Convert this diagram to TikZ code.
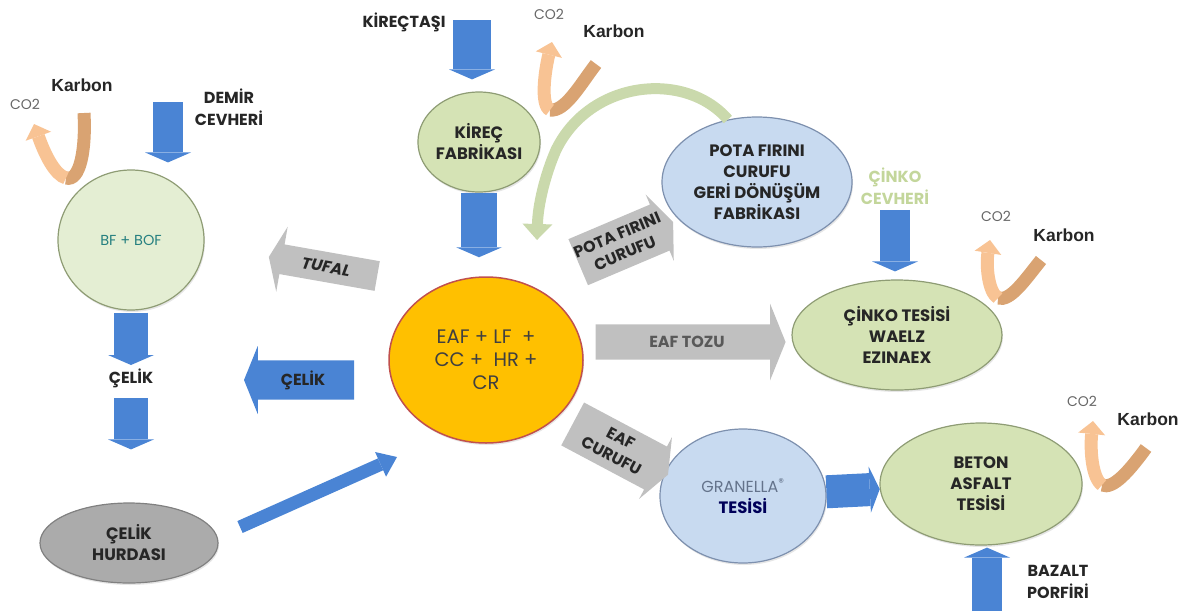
\documentclass[tikz,border=0pt]{standalone}
\usepackage{fontspec}
\setmainfont{Poppins}
\newfontfamily\karbonfont{Liberation Sans}
\usepackage{tikz}
\usetikzlibrary{shapes,arrows,arrows.meta,positioning,shadows}

\definecolor{bfgreen}{HTML}{E4EED3}
\definecolor{plantgreen}{HTML}{D5E3B5}
\definecolor{plantedge}{HTML}{8E9C74}
\definecolor{plantblue}{HTML}{C8DAF0}
\definecolor{blueedge}{HTML}{7D90AE}
\definecolor{scrapgray}{HTML}{ABABAB}
\definecolor{eafgold}{HTML}{FFC000}
\definecolor{eafedge}{HTML}{C0504D}
\definecolor{flowblue}{HTML}{4A84D4}
\definecolor{flowgray}{HTML}{C0C0C0}
\definecolor{carbonlight}{HTML}{F8C394}
\definecolor{carbondark}{HTML}{D9A372}
\definecolor{recyclegreen}{HTML}{CAD9AC}
\definecolor{zincore}{HTML}{C3D69B}
\definecolor{labeltext}{HTML}{262626}

\begin{document}
\begin{tikzpicture}[x=1pt,y=-1pt,
	plant/.style={ellipse, draw=plantedge, line width=1.2pt, fill=plantgreen, inner sep=0pt, align=center,
		font=\bfseries\fontsize{16.5}{21}\selectfont, text=labeltext, drop shadow={shadow xshift=1pt, shadow yshift=-2pt, opacity=0.2}},
	tag/.style={align=center, font=\bfseries\fontsize{16}{22}\selectfont, text=labeltext},
	carbon/.style={font=\karbonfont\bfseries\fontsize{17.5}{19}\selectfont, text=labeltext},
	gas/.style={font=\fontsize{14}{16}\selectfont, text=black!60},
	feed/.style={draw=flowblue, line width=30pt, -{Triangle[width=46pt,length=10pt,line width=0pt]}},
	slab/.style={single arrow, fill=flowgray, single arrow head extend=7pt, single arrow tip angle=136, inner sep=0pt,
		align=center, font=\bfseries\fontsize{16}{20}\selectfont, text=labeltext},
	co2tail/.style={draw=carbondark, line width=13pt},
	co2head/.style={draw=carbonlight, line width=13pt, -{Triangle[width=27pt,length=13pt,line width=0pt]}},
	recycle/.style={draw=recyclegreen, line width=11pt, -{Triangle[width=30pt,length=16pt,line width=0pt]}}]
	\useasboundingbox (0,0) rectangle (1186,611);

	\node[plant, fill=bfgreen, minimum width=146pt, minimum height=140pt, font=\fontsize{14.5}{16}\selectfont, text=teal!70!gray] (bfbof) at (131,240) {BF + BOF};
	\node[plant, fill=scrapgray, draw=black!50, minimum width=178pt, minimum height=80pt] (hurda) at (129,543) {ÇELİK\\HURDASI};
	\node[plant, fill=eafgold, draw=eafedge, line width=1.5pt, minimum width=194pt, minimum height=166pt,
		font=\fontsize{19.5}{23}\selectfont, text=black!75] (eaf) at (486,360) {EAF + LF\ \ +\\CC +\ \ HR +\\CR};
	\node[plant, minimum width=118pt, minimum height=100pt] (kirec) at (479,142) {KİREÇ\\FABRİKASI};
	\node[plant, fill=plantblue, draw=blueedge, minimum width=190pt, minimum height=130pt] (pota) at (757,182) {POTA FIRINI\\CURUFU\\GERİ DÖNÜŞÜM\\FABRİKASI};
	\node[plant, minimum width=210pt, minimum height=110pt] (cinko) at (897,335) {ÇİNKO TESİSİ\\WAELZ\\EZINAEX};
	\node[plant, fill=plantblue, draw=blueedge, minimum width=166pt, minimum height=134pt] (granella) at (743,496)
		{{\mdseries\fontsize{16}{20}\selectfont\color{blueedge!80!black}GRANELLA\textsuperscript{®}}\\{\color{blue!35!black}TESİSİ}};
	\node[plant, minimum width=202pt, minimum height=122pt] (beton) at (981,484) {BETON\\ASFALT\\TESİSİ};

	\node[tag] (demir) at (229,107) {DEMİR\\CEVHERİ};
	\node[tag] (celiklbl) at (131,378) {ÇELİK};
	\node[tag] (kirectasi) at (404,22) {KİREÇTAŞI};
	\node[tag, text=zincore] (cinkolbl) at (895,186) {ÇİNKO\\CEVHERİ};
	\node[tag] (bazalt) at (1058,582) {BAZALT\\PORFİRİ};

	\node[carbon] (karbon1) at (82,85) {Karbon};
	\node[gas] (co21) at (25,104) {CO2};
	\node[carbon] (karbon2) at (614,31) {Karbon};
	\node[gas] (co22) at (549,14) {CO2};
	\node[carbon] (karbon3) at (1064,235) {Karbon};
	\node[gas] (co23) at (996,216) {CO2};
	\node[carbon] (karbon4) at (1148,419) {Karbon};
	\node[gas] (co24) at (1082,401) {CO2};

	\node[slab, fill=flowblue, minimum height=110pt, minimum width=68pt, shape border rotate=180] (celikout) at (303,380) {ÇELİK};
	\node[slab, minimum height=110pt, minimum width=66pt, shape border rotate=180, rotate=-10] (tufal) at (326,267) {\itshape TUFAL};
	\node[slab, minimum height=190pt, minimum width=77pt, text=black!65] (eaftozu) at (687,342) {EAF TOZU};
	\node[slab, minimum height=102pt, minimum width=72pt, rotate=23] (potacuruf) at (621,244) {POTA FIRINI\\CURUFU};
	\node[slab, minimum height=108pt, minimum width=70pt, rotate=-28] (eafcuruf) at (616,447) {EAF\\CURUFU};

	\coordinate (ore) at (168,102);
	\coordinate (limestone) at (472,20);
	\coordinate (basalt) at (987,611);
	\coordinate (scrapout) at (240,527);
	\coordinate (scrapin) at (397,457);
	\coordinate (slagback) at (537,240);

	\draw [feed] (ore) -- ([yshift=7pt]ore |- bfbof.north);
	\draw [feed, line width=34pt] ([yshift=-2pt]bfbof.south) -- (bfbof.south |- celiklbl.north);
	\draw [feed, line width=34pt] ([yshift=-7pt]celiklbl.south) -- ([yshift=53pt]celiklbl.south |- hurda.north);
	\draw [feed, line width=38pt] (limestone) -- ([yshift=12pt]limestone |- kirec.north);
	\draw [feed, line width=36pt] (kirec.south) -- ([yshift=19pt]kirec.south |- eaf.north);
	\draw [feed] ([yshift=-2pt]cinkolbl.south) -- ([yshift=8pt]cinkolbl.south |- cinko.north);
	\draw [feed, line width=33pt] (granella) -- (beton);
	\draw [feed] (basalt) -- ([yshift=-2pt]basalt |- beton.south);
	\draw [feed, line width=13pt, -{Triangle[width=27pt,length=18pt,line width=0pt]}] (scrapout) -- (scrapin);

	\draw [recycle] (pota.115) .. controls (685,70) and (590,80) .. (556,150) .. controls (545,175) and (538,205) .. (slagback);

	\draw [co2tail] (84,113) .. controls (86,150) and (80,182) .. (66,178);
	\draw [co2head] (66,178) .. controls (55,175) and (45,155) .. (34,124);
	\draw [co2tail] (596,64) .. controls (580,85) and (565,112) .. (550,110);
	\draw [co2head] (550,110) .. controls (540,105) and (545,70) .. (552,42);
	\draw [co2tail] (1041,260) .. controls (1025,280) and (1010,302) .. (998,298);
	\draw [co2head] (998,298) .. controls (988,292) and (986,265) .. (990,240);
	\draw [co2tail] (1146,448) .. controls (1130,470) and (1113,490) .. (1102,485);
	\draw [co2head] (1102,485) .. controls (1092,478) and (1090,450) .. (1093,421);
\end{tikzpicture}
\end{document}
